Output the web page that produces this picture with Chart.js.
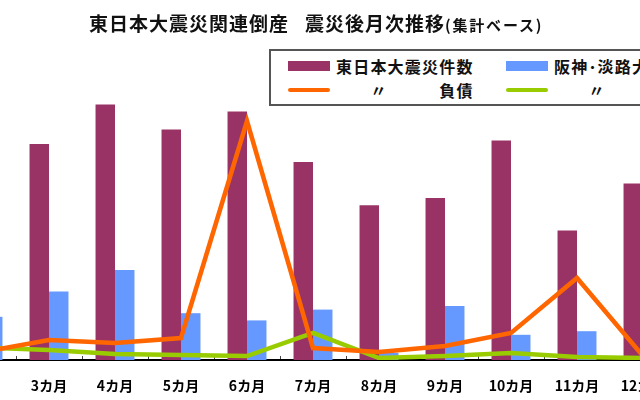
<!DOCTYPE html>
<html lang="ja">
<head>
<meta charset="utf-8">
<script src="https://cdn.jsdelivr.net/npm/chart.js@4/dist/chart.umd.min.js"></script>
<style>
  html, body { margin: 0; padding: 0; width: 640px; height: 400px; overflow: hidden; background: #fff; }
  body { position: relative; font-family: "Noto Sans CJK JP", "Noto Sans", sans-serif; }
  #chartWrap { position: absolute; left: -50px; top: 0; width: 726px; height: 416px; }
  #title { position: absolute; left: 89px; top: 13px; font-size: 19px; line-height: 19px; font-weight: bold; letter-spacing: 1px; white-space: nowrap; color: #111; }
  #title .sub { margin-left: 16px; }
  #title small { font-size: 15px; letter-spacing: 1.8px; }
  #legend { position: absolute; left: 269px; top: 49px; width: 440px; height: 51px; border: 2px solid #555; background: #fff;
            display: grid; grid-template-columns: 218px 218px; grid-template-rows: 25px 24px; padding-top: 2px; box-sizing: content-box; }
  .item { display: flex; align-items: center; font-size: 16px; font-weight: bold; letter-spacing: 1.2px; white-space: nowrap; color: #111; }
  .swatch { width: 42px; margin-left: 17px; margin-right: 6px; flex: none; }
</style>
</head>
<body>
<div id="chartWrap"><canvas id="quakeChart"></canvas></div>
<div id="title">東日本大震災関連倒産<span class="sub">震災後月次推移</span><small>(集計ベース)</small></div>
<div id="legend"></div>
<script>
/*
==============================================
    震災後月次推移 データ
==============================================
*/
const monthLabels = ['2カ月', '3カ月', '4カ月', '5カ月', '6カ月', '7カ月', '8カ月', '9カ月', '10カ月', '11カ月', '12カ月'];

// 件数（棒）
const higashiCount = [null, 60, 71, 64, 69, 55, 43, 45, 61, 36, 49];
const hanshinCount = [12, 19, 25, 13, 11, 14, 2, 15, 7, 8, null];

// 負債（折れ線）
const higashiDebt = [40, 100, 85, 110, 1195, 60, 40, 70, 135, 410, 20];
const hanshinDebt = [62, 50, 30, 25, 20, 135, 10, 20, 35, 15, 10];

const seriesLabels = ['東日本大震災件数', '阪神･淡路大震災件数', '　　〃　　　負債', '　　〃　　　負債'];

// ラベルを下げるため lineHeight を大きく取る（padding は横方向の余白にも効くので 0）
const tickFont = { family: '"Noto Sans CJK JP", sans-serif', size: 14, weight: 'bold', lineHeight: '60px' };

const ctx = document.getElementById('quakeChart').getContext('2d');
const chart = new Chart(ctx, {
    type: 'bar',
    data: {
        labels: monthLabels,
        datasets: [
            {
                label: seriesLabels[0],
                data: higashiCount,
                backgroundColor: '#993366',
                yAxisID: 'y',
                order: 1
            },
            {
                label: seriesLabels[1],
                data: hanshinCount,
                backgroundColor: '#6699FF',
                yAxisID: 'y',
                order: 1
            },
            {
                type: 'line',
                label: seriesLabels[2],
                data: higashiDebt,
                borderColor: '#FF6600',
                backgroundColor: '#FF6600',
                borderWidth: 4.5,
                pointRadius: 0,
                tension: 0,
                yAxisID: 'y2',
                order: 0
            },
            {
                type: 'line',
                label: seriesLabels[3],
                data: hanshinDebt,
                borderColor: '#99CC00',
                backgroundColor: '#99CC00',
                borderWidth: 4.5,
                pointRadius: 0,
                tension: 0,
                yAxisID: 'y2',
                order: 0
            }
        ]
    },
    options: {
        responsive: true,
        maintainAspectRatio: false,
        animation: false,
        layout: { padding: 0 },
        datasets: {
            bar: { categoryPercentage: 0.59, barPercentage: 1.0 }
        },
        plugins: {
            legend: { display: false },
            title: { display: false },
            tooltip: { enabled: false }
        },
        scales: {
            x: {
                grid: { offset: true, drawOnChartArea: false, tickLength: -4, color: '#444', lineWidth: 1 },
                border: { display: true, color: '#000', width: 2 },
                ticks: { font: tickFont, color: '#000', padding: 0, maxRotation: 0, autoSkip: false }
            },
            y: { display: false, min: 0, max: 100 },
            y2: { display: false, min: 0, max: 1800 }
        }
    }
});

// 凡例（枠付き 2列）
const legendBox = document.getElementById('legend');
chart.data.datasets.forEach(ds => {
    const item = document.createElement('div');
    item.className = 'item';
    const sw = document.createElement('span');
    sw.className = 'swatch';
    if (ds.type === 'line') {
        sw.style.height = '4px';
        sw.style.borderRadius = '2px';
        sw.style.background = ds.borderColor;
    } else {
        sw.style.height = '10px';
        sw.style.background = ds.backgroundColor;
    }
    const txt = document.createElement('span');
    txt.textContent = ds.label;
    item.appendChild(sw);
    item.appendChild(txt);
    legendBox.appendChild(item);
});
</script>
</body>
</html>
